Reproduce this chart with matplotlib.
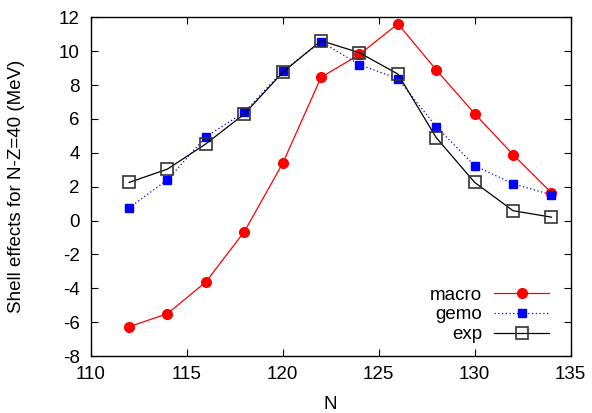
import matplotlib
matplotlib.use("Agg")
import matplotlib.pyplot as plt

N = [112, 114, 116, 118, 120, 122, 124, 126, 128, 130, 132, 134]
macro = [-6.27, -5.5, -3.62, -0.66, 3.38, 8.46, 9.81, 11.62, 8.89, 6.31, 3.89, 1.64]
gemo = [0.75, 2.41, 4.95, 6.39, 8.83, 10.56, 9.2, 8.38, 5.54, 3.24, 2.17, 1.52]
exp = [2.25, 3.04, 4.53, 6.29, 8.75, 10.62, 9.91, 8.65, 4.89, 2.25, 0.58, 0.2]
xticks = [110, 115, 120, 125, 130, 135]
yticks = [-8, -6, -4, -2, 0, 2, 4, 6, 8, 10, 12]

plt.rcParams['font.family'] = ['Liberation Sans', 'DejaVu Sans']
plt.rcParams['axes.unicode_minus'] = False
fig = plt.figure(figsize=(5.92, 4.13), dpi=100)
ax = fig.add_axes([0.1532, 0.138, 0.964 - 0.1532, 0.958 - 0.138])

ax.plot(N, macro, color='#ff0000', lw=0.9, marker='o', ms=7, label='macro')
ax.plot(N, gemo, color='#0000ff', lw=0.9, ls=(0, (1, 2)), marker='s', ms=6, label='gemo')
ax.plot(N, exp, color='black', lw=0.9, marker='s', ms=9, mfc='none', mec='#333333', mew=1.2, label='exp')

ax.set_xlim(110, 135)
ax.set_ylim(-8, 12)
ax.set_xticks(xticks)
ax.set_yticks(yticks)
ax.tick_params(direction='in', top=True, right=True, labelsize=13.5, length=5, width=0.8)
ax.tick_params(axis='x', pad=7)
ax.tick_params(axis='y', pad=8)
for s in ax.spines.values():
    s.set_linewidth(1.0)
ax.set_xlabel('N', fontsize=13.5)
ax.set_ylabel('Shell effects for N-Z=40 (MeV)', fontsize=13.5)
ax.xaxis.set_label_coords(0.5, -0.118)
ax.yaxis.set_label_coords(-0.137, 0.5)

ax.legend(loc='lower right', frameon=False, markerfirst=False, fontsize=13.5,
          handlelength=2.9, labelspacing=0.15, borderaxespad=0.0, handletextpad=0.65,
          bbox_to_anchor=(0.97, 0.015))

fig.savefig('out.png', dpi=100)
